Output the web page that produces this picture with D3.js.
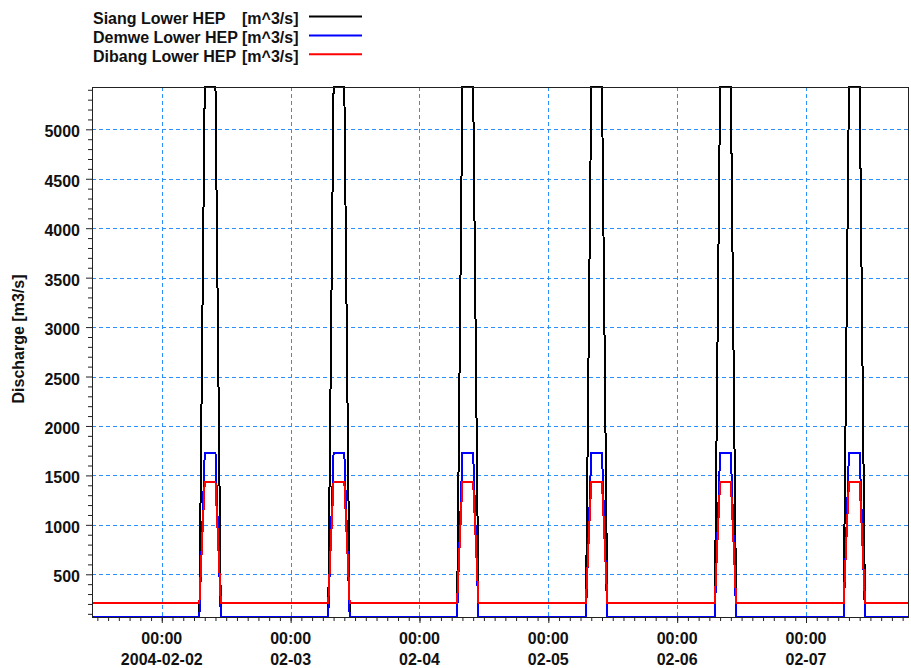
<!DOCTYPE html>
<html>
<head>
<meta charset="utf-8">
<script src="https://cdn.jsdelivr.net/npm/d3@7"></script>
<style>
  html, body { margin: 0; padding: 0; background: #fff; }
  svg { display: block; }
  text { font-family: "Liberation Sans", Arial, sans-serif; font-weight: bold; fill: #111; }
</style>
</head>
<body>
<svg id="chart" width="911" height="668"></svg>
<script>
// Daily operating pattern of the three plants (hourly breakpoints, linear between them)
const days = ["2004-02-01", "2004-02-02", "2004-02-03", "2004-02-04",
              "2004-02-05", "2004-02-06", "2004-02-07", "2004-02-08"];
const profileHours = [0, 7, 8, 10, 11];
const siangLower  = [0, 0, 6620, 6620, 0];       // peak runs off the top of the axis
const demweLower  = [0, 0, 1722, 1722, 0];
const dibangLower = [205, 205, 1435, 1435, 205];

const seriesNames = ["Siang Lower HEP", "Demwe Lower HEP", "Dibang Lower HEP"];
const seriesUnit = "[m^3/s]";
const seriesColors = ["#000000", "#0000ff", "#ff0000"];

const yTicks = [500, 1000, 1500, 2000, 2500, 3000, 3500, 4000, 4500, 5000];
const xTickDays = ["2004-02-02", "2004-02-03", "2004-02-04", "2004-02-05", "2004-02-06", "2004-02-07"];
const xTickLabels = ["2004-02-02", "02-03", "02-04", "02-05", "02-06", "02-07"];
const xStart = "2004-02-01 11:00";
const xEnd = "2004-02-07 19:00";
const yDomain = [68, 5428];
const yTitle = "Discharge [m3/s]";

const parseDay = d3.utcParse("%Y-%m-%d");
const parseTime = d3.utcParse("%Y-%m-%d %H:%M");

function buildSeries(values) {
  const pts = [];
  days.forEach(day => {
    const base = parseDay(day);
    profileHours.forEach((h, i) => pts.push({ t: d3.utcHour.offset(base, h), v: values[i] }));
  });
  return pts;
}
const series = [siangLower, demweLower, dibangLower].map(buildSeries);

const plot = { left: 92, top: 87, right: 908, bottom: 617 };
const svg = d3.select("#chart");

const x = d3.scaleUtc().domain([parseTime(xStart), parseTime(xEnd)]).range([plot.left, plot.right]);
const y = d3.scaleLinear().domain(yDomain).range([plot.bottom, plot.top]).clamp(true);

svg.append("defs").append("clipPath").attr("id", "plotClip")
  .append("rect").attr("x", plot.left).attr("y", 0)
  .attr("width", plot.right - plot.left).attr("height", 668);

// Grid
const grid = svg.append("g").attr("stroke", "#2a8fff").attr("stroke-width", 1)
  .attr("stroke-dasharray", "4,3").attr("shape-rendering", "crispEdges");
grid.selectAll("line.h").data(yTicks).join("line").attr("class", "h")
  .attr("x1", plot.left).attr("x2", plot.right)
  .attr("y1", d => Math.round(y(d)) + 0.5).attr("y2", d => Math.round(y(d)) + 0.5);
grid.selectAll("line.v").data(xTickDays.map(parseDay)).join("line").attr("class", "v")
  .attr("y1", plot.top).attr("y2", plot.bottom)
  .attr("x1", d => Math.round(x(d)) + 0.5).attr("x2", d => Math.round(x(d)) + 0.5);

// Series lines
const line = d3.line().x(d => x(d.t)).y(d => y(d.v));
svg.append("g").attr("clip-path", "url(#plotClip)")
  .selectAll("path").data(series).join("path")
  .attr("d", line).attr("fill", "none")
  .attr("stroke", (d, i) => seriesColors[i]).attr("stroke-width", 2)
  .attr("stroke-linejoin", "miter").attr("shape-rendering", "crispEdges");

// Axes
const yAxis = d3.axisLeft(y).tickValues(yTicks).tickSize(6).tickPadding(6).tickFormat(d3.format("d"));
const gy = svg.append("g").attr("transform", `translate(${plot.left},0)`).call(yAxis);
gy.select(".domain").remove();
gy.selectAll(".tick line").attr("stroke", "#222");
gy.selectAll(".tick text").attr("font-size", 16).attr("dy", "0.47em").attr("x", -12)
  .attr("font-family", "Liberation Sans, Arial, sans-serif").attr("font-weight", "bold").attr("fill", "#111");

const yMinor = d3.axisLeft(y).tickValues(d3.range(100, 5428, 100).filter(v => v % 500 !== 0))
  .tickSize(4).tickFormat("");
const gym = svg.append("g").attr("transform", `translate(${plot.left},0)`).call(yMinor);
gym.select(".domain").remove();
gym.selectAll(".tick line").attr("stroke", "#222");

const xAxis = d3.axisBottom(x).tickValues(xTickDays.map(parseDay)).tickSize(6).tickFormat("");
const gx = svg.append("g").attr("transform", `translate(0,${plot.bottom})`).call(xAxis);
gx.select(".domain").remove();
gx.selectAll(".tick line").attr("stroke", "#222");

const xMinor = d3.axisBottom(x).ticks(d3.utcHour.every(2)).tickSize(4).tickFormat("");
const gxm = svg.append("g").attr("transform", `translate(0,${plot.bottom})`).call(xMinor);
gxm.select(".domain").remove();
gxm.selectAll(".tick line").attr("stroke", "#222");

const xl = svg.append("g").attr("text-anchor", "middle").attr("font-size", 16);
xTickDays.forEach((d, i) => {
  const px = x(parseDay(d));
  xl.append("text").attr("x", px).attr("y", 644).text("00:00");
  xl.append("text").attr("x", px).attr("y", 665).text(xTickLabels[i]);
});

// Frame
svg.append("rect").attr("x", plot.left + 0.5).attr("y", plot.top + 0.5)
  .attr("width", plot.right - plot.left).attr("height", plot.bottom - plot.top)
  .attr("fill", "none").attr("stroke", "#222").attr("stroke-width", 1);

// Y title
svg.append("text").attr("transform", "translate(24,339) rotate(-90)")
  .attr("text-anchor", "middle").attr("font-size", 16).text(yTitle);

// Legend
const legend = svg.append("g").attr("font-size", 16);
seriesNames.forEach((name, i) => {
  const base = 24 + i * 18.9;
  legend.append("text").attr("x", 93).attr("y", base).text(name);
  legend.append("text").attr("x", 242).attr("y", base).text(seriesUnit);
  legend.append("line").attr("x1", 309).attr("x2", 362)
    .attr("y1", base - 7.5).attr("y2", base - 7.5)
    .attr("stroke", seriesColors[i]).attr("stroke-width", 2);
});
</script>
</body>
</html>
